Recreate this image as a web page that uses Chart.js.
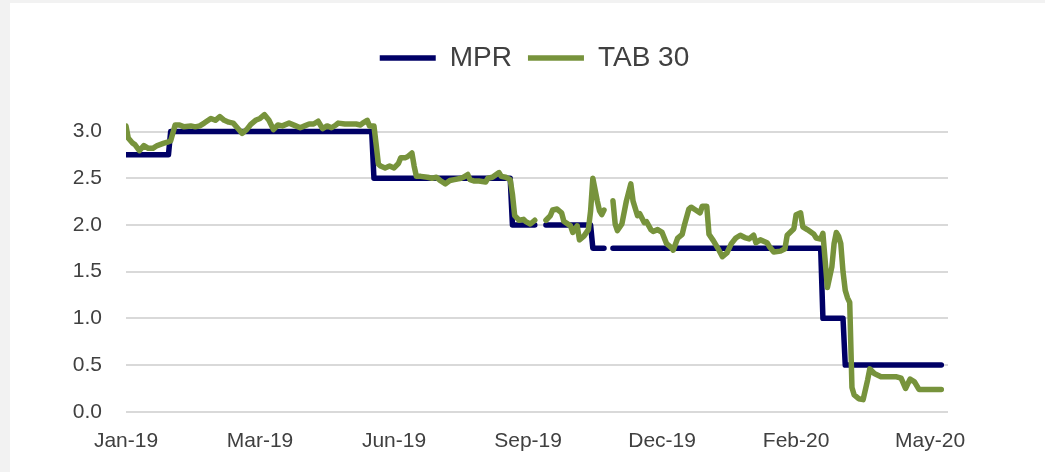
<!DOCTYPE html>
<html lang="en">
<head>
<meta charset="UTF-8">
<title>MPR vs TAB 30</title>
<script src="https://cdn.jsdelivr.net/npm/chart.js@4"></script>
<style>
  html, body { margin: 0; padding: 0; background: #f2f2f2; }
  .card { position: absolute; left: 10px; top: 3px; width: 1035px; height: 469px; background: #fff; }
  canvas { display: block; }
</style>
</head>
<body>
<div class="card"><canvas id="chart" width="1035" height="469"></canvas></div>
<script>
// x is the business-day index from early Jan-19
const tickDays = [0, 60, 120, 180, 240, 300, 360];
const tickLabels = ["Jan-19", "Mar-19", "Jun-19", "Sep-19", "Dec-19", "Feb-20", "May-20"];
const yTicks = [0, 0.5, 1, 1.5, 2, 2.5, 3];

// MPR: change points (null = holiday break)
const mprDays  = [0, 19, 20, 110, 111, 172, 173, 183, 184, 188, 208, 209, 214, 215, 218, 311, 312, 321, 322, 365];
const mprRates = [2.75, 2.75, 3.0, 3.0, 2.5, 2.5, 2.0, 2.0, null, 2.0, 2.0, 1.75, 1.75, null, 1.75, 1.75, 1.0, 1.0, 0.5, 0.5];

// TAB 30
const tab30Days = [
  0, 1, 3, 4, 6, 8, 10, 12, 14, 17, 19, 20, 22, 24, 26, 29, 31, 33, 35, 38,
  40, 42, 44, 46, 48, 50, 52, 54, 56, 58, 60, 62, 64, 66, 68, 70, 73, 76, 78, 80,
  82, 84, 86, 88, 90, 92, 94, 95, 98, 100, 103, 105, 106, 108, 109, 111, 112, 113, 114, 116,
  118, 120, 122, 123, 125, 126, 128, 129, 130, 132, 135, 137, 139, 141, 143, 145, 147, 150, 151, 153,
  154, 156, 158, 161, 162, 164, 167, 168, 170, 172, 173, 174, 176, 178, 179, 181, 183, 184, 188, 190,
  191, 193, 195, 196, 199, 200, 202, 203, 205, 207, 208, 209, 211, 212, 213, 214, 215, 218, 219, 220,
  222, 224, 226, 227, 229, 230, 232, 233, 235, 236, 238, 240, 242, 244, 245, 247, 249, 250, 252, 253,
  255, 257, 258, 260, 261, 263, 265, 267, 269, 271, 273, 275, 277, 279, 281, 282, 284, 287, 288, 290,
  293, 295, 296, 299, 300, 302, 303, 305, 308, 309, 311, 312, 313, 314, 316, 317, 318, 319, 320, 321,
  322, 323, 324, 325, 326, 328, 330, 332, 333, 335, 338, 342, 345, 347, 349, 351, 353, 355, 358, 361,
  365
];
const tab30Rates = [
  3.06, 2.93, 2.875, 2.86, 2.795, 2.85, 2.82, 2.82, 2.85, 2.875, 2.89, 2.90, 3.07, 3.07, 3.05, 3.06, 3.05, 3.06, 3.09, 3.14,
  3.12, 3.16, 3.12, 3.10, 3.09, 3.035, 2.98, 3.02, 3.08, 3.12, 3.14, 3.18, 3.12, 3.02, 3.07, 3.06, 3.09, 3.06, 3.04, 3.06,
  3.08, 3.08, 3.11, 3.03, 3.06, 3.04, 3.07, 3.09, 3.08, 3.08, 3.08, 3.07, 3.09, 3.12, 3.06, 3.06, 2.86, 2.65, 2.63, 2.61,
  2.63, 2.61, 2.66, 2.72, 2.72, 2.73, 2.77, 2.63, 2.52, 2.52, 2.51, 2.50, 2.51, 2.47, 2.44, 2.475, 2.485, 2.50, 2.51, 2.54,
  2.485, 2.47, 2.47, 2.46, 2.50, 2.51, 2.56, 2.52, 2.51, 2.485, 2.33, 2.10, 2.05, 2.06, 2.035, 2.01, 2.05, null, 2.05, 2.10,
  2.16, 2.17, 2.13, 2.04, 1.99, 1.92, 1.99, 1.84, 1.88, 1.95, 2.15, 2.50, 2.255, 2.15, 2.11, 2.16, null, 2.26, 2.01, 1.94,
  2.01, 2.255, 2.44, 2.255, 2.10, 2.12, 2.025, 2.035, 1.95, 1.93, 1.95, 1.92, 1.80, 1.76, 1.73, 1.86, 1.90, 2.00, 2.17, 2.19,
  2.16, 2.13, 2.20, 2.20, 1.90, 1.83, 1.75, 1.66, 1.70, 1.80, 1.86, 1.89, 1.865, 1.85, 1.89, 1.81, 1.84, 1.81, 1.77, 1.71,
  1.72, 1.745, 1.89, 1.96, 2.11, 2.13, 1.98, 1.95, 1.90, 1.86, 1.85, 1.91, 1.62, 1.33, 1.55, 1.80, 1.92, 1.88, 1.80, 1.50,
  1.30, 1.22, 1.17, 0.26, 0.18, 0.14, 0.13, 0.34, 0.46, 0.41, 0.375, 0.375, 0.375, 0.36, 0.25, 0.35, 0.32, 0.24, 0.24, 0.24,
  0.24
];

const textColor = "#404040";
const fontFamily = "Liberation Sans, Arial, sans-serif";

function toPoints(days, rates) {
  return days.map((d, i) => ({ x: d, y: rates[i] }));
}

new Chart(document.getElementById("chart"), {
  type: "line",
  data: {
    datasets: [
      {
        label: "MPR",
        data: toPoints(mprDays, mprRates),
        borderColor: "#000066",
        backgroundColor: "#000066",
        borderWidth: 5.5,
        borderCapStyle: "round",
        borderJoinStyle: "round",
        pointRadius: 0,
        order: 1
      },
      {
        label: "TAB 30",
        data: toPoints(tab30Days, tab30Rates),
        borderColor: "#77933c",
        backgroundColor: "#77933c",
        borderWidth: 5.5,
        borderCapStyle: "round",
        borderJoinStyle: "round",
        pointRadius: 0,
        order: 0
      }
    ]
  },
  options: {
    responsive: false,
    animation: false,
    spanGaps: false,
    layout: { padding: { top: 25, right: 0, bottom: 1, left: 14 } },
    plugins: {
      tooltip: { enabled: false },
      legend: {
        position: "top",
        labels: {
          usePointStyle: true,
          pointStyle: "line",
          pointStyleWidth: 56,
          padding: 16,
          color: textColor,
          font: { family: fontFamily, size: 28 },
          sort: (a, b) => a.datasetIndex - b.datasetIndex
        }
      }
    },
    scales: {
      x: {
        type: "linear",
        min: 0,
        max: 368,
        afterBuildTicks: (scale) => { scale.ticks = tickDays.map(v => ({ value: v })); },
        ticks: {
          autoSkip: false,
          maxRotation: 0,
          padding: 17,
          color: textColor,
          font: { family: fontFamily, size: 21 },
          callback: (value, index) => tickLabels[index]
        },
        grid: { display: false, drawTicks: false },
        border: { display: false }
      },
      y: {
        min: 0,
        max: 3.53,
        afterBuildTicks: (scale) => { scale.ticks = yTicks.map(v => ({ value: v })); },
        afterFit: (scale) => { scale.width = 102; },
        ticks: {
          padding: 24,
          color: textColor,
          font: { family: fontFamily, size: 21 },
          callback: (value) => value.toFixed(1)
        },
        grid: { color: "#d9d9d9", lineWidth: 2, drawTicks: false },
        border: { display: false }
      },
      // empty right-hand axis that keeps the plot narrower than the legend row
      yRight: {
        position: "right",
        min: 0,
        max: 3.53,
        afterFit: (scale) => { scale.width = 97; },
        ticks: { display: false },
        grid: { display: false, drawTicks: false },
        border: { display: false }
      }
    }
  }
});
</script>
</body>
</html>
